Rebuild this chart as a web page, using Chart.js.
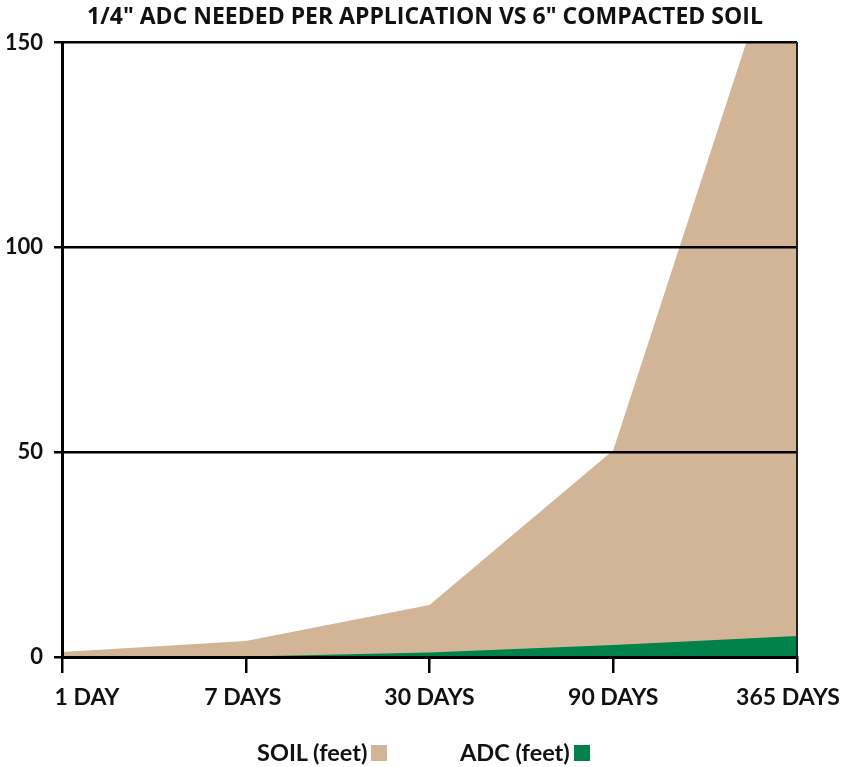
<!DOCTYPE html>
<html>
<head>
<meta charset="utf-8">
<script src="https://cdn.jsdelivr.net/npm/chart.js@4"></script>
<style>
  html, body { margin: 0; padding: 0; background: #fff; }
  #wrap { position: relative; width: 843px; height: 767px; }
  canvas { position: absolute; left: 0; top: 0; }
  .leg { position: absolute; top: 739px; font: bold 23.5px Lato, sans-serif; line-height: 27px; color: #111; white-space: nowrap; }
  .leg i { display: inline-block; width: 16px; height: 16px; margin-left: 4px; vertical-align: baseline; }
</style>
</head>
<body>
<div id="wrap">
  <canvas id="c" width="843" height="767"></canvas>
  <div class="leg" style="left:257px">SOIL (feet)<i style="background:#D2B596"></i></div>
  <div class="leg" style="left:460px">ADC (feet)<i style="background:#00824A"></i></div>
</div>
<script>
const categories = ['1 DAY', '7 DAYS', '30 DAYS', '90 DAYS', '365 DAYS'];
const soilFeet = [1.2, 3.9, 12.7, 50.5, 188];
const adcFeet = [0, 0.1, 1.1, 2.9, 5.1];
const yTicks = [0, 50, 100, 150];

const TAN = '#D2B596';
const GREEN = '#00824A';
const FONT = 'Lato, sans-serif';

const xLabelPlugin = {
  id: 'xLabels',
  afterDraw(chart) {
    const xs = chart.scales.x;
    const ctx = chart.ctx;
    const shift = [25, -3, 0, 0, -9];
    ctx.save();
    ctx.font = 'bold 23px ' + FONT;
    ctx.fillStyle = '#111';
    ctx.textAlign = 'center';
    ctx.textBaseline = 'middle';
    xs.ticks.forEach((t, i) => {
      ctx.fillText(categories[i], xs.getPixelForTick(i) + (shift[i] || 0), 698);
    });
    ctx.restore();
  }
};

new Chart(document.getElementById('c'), {
  type: 'line',
  data: {
    labels: categories,
    datasets: [
      { label: 'ADC (feet)', data: adcFeet, backgroundColor: GREEN, borderWidth: 0, pointRadius: 0, fill: 'origin', tension: 0 },
      { label: 'SOIL (feet)', data: soilFeet, backgroundColor: TAN, borderWidth: 0, pointRadius: 0, fill: 'origin', tension: 0 }
    ]
  },
  options: {
    responsive: false,
    animation: false,
    layout: { padding: { left: 7, right: 0, top: 0, bottom: 94 } },
    plugins: {
      legend: { display: false },
      tooltip: { enabled: false },
      title: {
        display: true,
        text: '1/4" ADC NEEDED PER APPLICATION VS 6" COMPACTED SOIL',
        color: '#111',
        font: { family: '"Open Sans", sans-serif', size: 23, weight: 'bold' },
        padding: { top: 4, bottom: 11 }
      }
    },
    scales: {
      x: {
        offset: false,
        border: { display: true, color: '#000', width: 3, z: 2 },
        grid: {
          z: 1,
          drawOnChartArea: false,
          drawTicks: true,
          tickLength: 16,
          lineWidth: 2.5,
          color: '#000',
          tickColor: '#000'
        },
        ticks: { display: false }
      },
      y: {
        min: 0,
        max: 150,
        afterBuildTicks: (s) => { s.ticks = yTicks.map(v => ({ value: v })); },
        afterFit: (s) => { s.width = 55; },
        border: { display: true, color: '#000', width: 3, z: 2 },
        grid: { z: 1, color: '#000', lineWidth: 2.5, drawTicks: true, tickLength: 8, tickColor: '#000' },
        ticks: { color: '#111', padding: 11, font: { family: FONT, size: 22, weight: 'bold' } }
      },
      yRight: {
        position: 'right',
        min: 0,
        max: 150,
        afterFit: (s) => { s.width = 46; },
        border: { display: true, color: '#222', width: 2, z: 2 },
        grid: { display: false, drawTicks: false },
        ticks: { display: false }
      }
    }
  },
  plugins: [xLabelPlugin]
});
</script>
</body>
</html>
